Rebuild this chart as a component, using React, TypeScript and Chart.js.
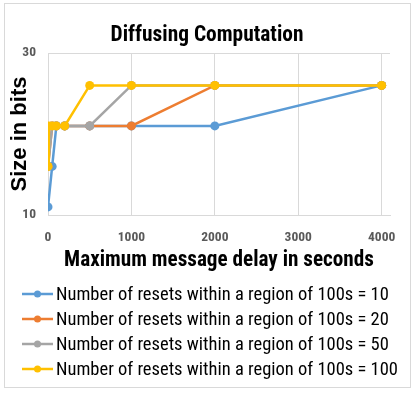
import React, { useEffect, useRef } from "react";
import { Chart, registerables } from "chart.js";

Chart.register(...registerables);

const xValues = [0, 10, 50, 100, 200, 500, 1000, 2000, 4000];
const resets10 = [11, null, 16, 21, 21, 21, 21, 21, 26];
const resets20 = [16, null, 21, 21, 21, 21, 21, 26, 26];
const resets50 = [16, null, 21, 21, 21, 21, 26, 26, 26];
const resets100 = [16, 21, 21, 21, 21, 26, 26, 26, 26];
const seriesLabels = [
  "Number of resets within a region of 100s = 10",
  "Number of resets within a region of 100s = 20",
  "Number of resets within a region of 100s = 50",
  "Number of resets within a region of 100s = 100",
];
const seriesColors = ["#5B9BD5", "#ED7D31", "#A5A5A5", "#FFC000"];
const xTicks = [0, 1000, 2000, 3000, 4000];
const yTicks = [10, 30];

const NARROW = '"Roboto Condensed", "Liberation Sans", Arial, sans-serif';
const WIDE = '"Liberation Sans", Arial, sans-serif';

const decor = {
  id: "decor",
  beforeDraw(chart: any) {
    const ctx = chart.ctx;
    ctx.save();
    ctx.fillStyle = "#ffffff";
    ctx.fillRect(0, 0, chart.width, chart.height);
    ctx.strokeStyle = "#d9d9d9";
    ctx.lineWidth = 1;
    ctx.strokeRect(4.5, 3.5, 406, 384);
    ctx.restore();
  },
  afterDraw(chart: any) {
    const ctx = chart.ctx;
    ctx.save();
    ctx.fillStyle = "#000";
    ctx.font = `bold 21.4px ${NARROW}`;
    ctx.textAlign = "center";
    ctx.textBaseline = "middle";
    ctx.fillText("Diffusing Computation", 207, 36);
    ctx.font = `18.5px ${NARROW}`;
    ctx.textAlign = "left";
    chart.data.datasets.forEach((ds: any, i: number) => {
      const y = 294 + i * 25;
      ctx.strokeStyle = ds.borderColor;
      ctx.lineWidth = 2.5;
      ctx.beginPath();
      ctx.moveTo(22, y);
      ctx.lineTo(53, y);
      ctx.stroke();
      ctx.fillStyle = ds.borderColor;
      ctx.beginPath();
      ctx.arc(37.5, y, 3.5, 0, Math.PI * 2);
      ctx.fill();
      ctx.fillStyle = "#000";
      ctx.fillText(ds.label, 56, y + 1);
    });
    ctx.restore();
  },
};

export default function App() {
  const ref = useRef<HTMLCanvasElement | null>(null);
  useEffect(() => {
    document.body.style.margin = "0";
    const canvas = ref.current!;
    const series = [resets10, resets20, resets50, resets100];
    const chart = new Chart(canvas, {
      type: "line",
      data: {
        datasets: series.map((vals, i) => ({
          label: seriesLabels[i],
          data: xValues.map((x, j) => ({ x, y: vals[j] })),
          borderColor: seriesColors[i],
          backgroundColor: seriesColors[i],
          pointBackgroundColor: seriesColors[i],
          pointBorderColor: seriesColors[i],
          pointRadius: 4.5,
          pointBorderWidth: 0,
          borderWidth: 2.5,
          spanGaps: true,
          tension: 0,
          order: 4 - i,
        })),
      },
      options: {
        animation: false,
        responsive: false,
        devicePixelRatio: 1,
        layout: { padding: { left: 0, right: 26, top: 53, bottom: 118 } },
        plugins: {
          legend: { display: false },
          tooltip: { enabled: false },
          title: { display: false },
        },
        scales: {
          x: {
            type: "linear",
            min: 0,
            max: 4100,
            afterBuildTicks: (s: any) => {
              s.ticks = xTicks.map((v) => ({ value: v }));
            },
            afterFit: (s: any) => {
              s.height = 60;
            },
            grid: { color: "#d9d9d9", drawTicks: false, lineWidth: 1 },
            border: { color: "#d9d9d9", width: 1 },
            ticks: {
              color: "#595959",
              font: { family: NARROW, size: 13.5, weight: "bold" },
              padding: 15,
              maxRotation: 0,
              autoSkip: false,
              callback: (v: any) => String(v),
            },
            title: {
              display: true,
              text: "Maximum message delay in seconds",
              color: "#000",
              font: { family: NARROW, size: 21.2, weight: "bold" },
              padding: { top: 0, bottom: 2 },
            },
          },
          y: {
            type: "linear",
            min: 10,
            max: 30,
            afterBuildTicks: (s: any) => {
              s.ticks = yTicks.map((v) => ({ value: v }));
            },
            afterFit: (s: any) => {
              s.width = 48;
            },
            grid: { color: "#d9d9d9", drawTicks: false, lineWidth: 1 },
            border: { color: "#d9d9d9", width: 1 },
            ticks: {
              color: "#595959",
              font: { family: NARROW, size: 13.5, weight: "bold" },
              padding: 12,
              callback: (v: any) => String(v),
            },
            title: {
              display: true,
              text: "Size in bits",
              color: "#000",
              font: { family: WIDE, size: 22, weight: "bold" },
              padding: { top: 7, bottom: 0 },
            },
          },
        },
      },
      plugins: [decor],
    } as any);
    return () => chart.destroy();
  }, []);
  return (
    <canvas
      ref={ref}
      width={416}
      height={393}
      style={{ display: "block", width: 416, height: 393 }}
    />
  );
}
